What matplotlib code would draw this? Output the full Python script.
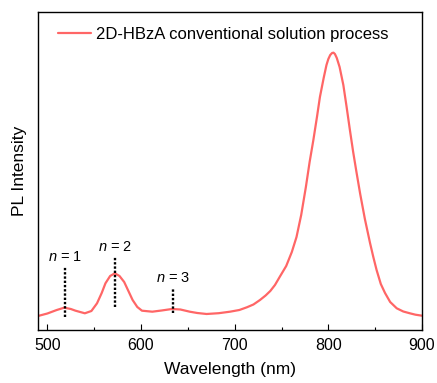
import matplotlib
matplotlib.use("Agg")
import matplotlib.pyplot as plt

plt.rcParams['font.family'] = ['Liberation Sans', 'DejaVu Sans']
plt.rcParams['mathtext.fontset'] = 'custom'
plt.rcParams['mathtext.it'] = 'Liberation Sans:italic'
plt.rcParams['mathtext.rm'] = 'Liberation Sans'

# PL spectrum of 2D-HBzA (conventional solution process)
wavelength = [490, 500, 510, 518, 525, 530, 540, 547, 553, 558, 562, 567, 572,
              577, 582, 586, 591, 596, 601, 612, 622, 633, 642, 652, 660, 670,
              683, 695, 705, 713, 720, 727, 733, 738, 743, 748, 755, 761, 766,
              771, 776, 780, 784, 788, 791, 795, 798, 800, 802, 804, 805.5, 807,
              809, 812, 816, 819.5, 823, 826.5, 830, 834, 839, 844.5, 848,
              851.5, 856, 860.5, 866, 873, 880, 887, 893, 900]
intensity = [14, 16.5, 20, 22.3, 21, 19.3, 16.7, 19, 26.7, 37, 46.7, 54, 56.7,
             54, 48, 40, 30, 23, 19.3, 18.3, 19.5, 21, 20.5, 18.3, 17, 16,
             16.8, 18.3, 20, 22.7, 25.5, 30, 34.5, 39, 45, 53, 64, 78, 93,
             115, 143, 168, 190, 214, 233, 252, 265, 271, 275, 277, 277.3, 276,
             272, 263, 245, 223, 200, 178, 158, 136, 111, 87, 73,
             60, 46, 37, 28, 21.7, 18.5, 16.7, 15.3, 14.3]

# Exciton peaks of the n = 1, 2, 3 phases
phase_labels = ['1', '2', '3']
phase_pos = [519, 572, 634]
phase_line_bottom = [13, 23, 17]
phase_line_top = [63, 73, 42]

fig = plt.figure(figsize=(4.37, 3.83), dpi=100)
ax = fig.add_axes([0.087, 0.1384, 0.8787, 0.8303])

ax.plot(wavelength, intensity, color='#ff6666', lw=1.6,
        solid_joinstyle='round', solid_capstyle='round',
        label='2D-HBzA conventional solution process')

for lab, x, y0, y1 in zip(phase_labels, phase_pos, phase_line_bottom, phase_line_top):
    ax.plot([x, x], [y0, y1], color='black', lw=1.7, ls=(0, (1, 0.8)))
    ax.text(x, y1 + 3, '$n$ = ' + lab, ha='center', va='bottom', fontsize=10.5)

ax.set_xlim(490, 900)
ax.set_ylim(0, 318)
ax.set_xticks([500, 600, 700, 800, 900])
ax.set_xticks([550, 650, 750, 850], minor=True)
ax.set_yticks([])
ax.tick_params(axis='x', which='major', direction='in', length=4, width=0.8,
               labelsize=11.5, pad=6)
ax.tick_params(axis='x', which='minor', direction='in', length=2, width=0.8)
for s in ax.spines.values():
    s.set_linewidth(1.0)

ax.set_xlabel('Wavelength (nm)', fontsize=12.5, labelpad=6)
ax.set_ylabel('PL Intensity', fontsize=12.5, labelpad=8)

ax.legend(loc='upper left', bbox_to_anchor=(0.012, 1.0), frameon=False,
          fontsize=12, handlelength=2.0, handletextpad=0.3)

fig.savefig('out.png', dpi=100)
